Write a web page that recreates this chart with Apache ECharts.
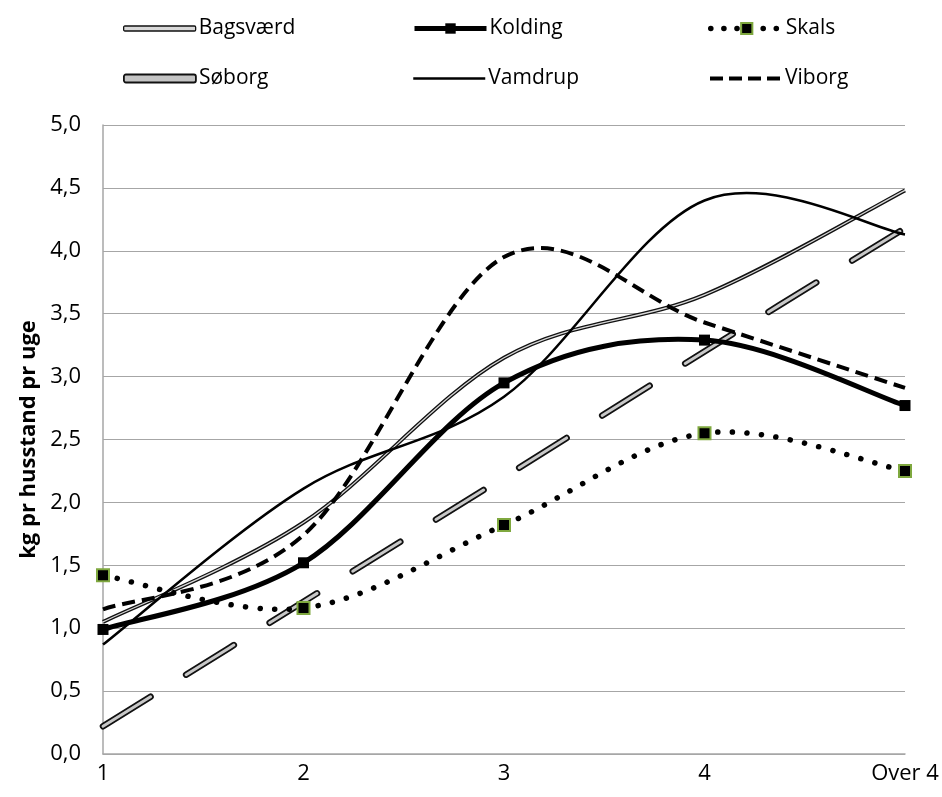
<!DOCTYPE html>
<html><head><meta charset="utf-8">
<script src="https://cdn.jsdelivr.net/npm/echarts@6/dist/echarts.min.js"></script>
<style>html,body{margin:0;padding:0;background:#fff}#c{width:942px;height:797px}</style>
</head><body><div id="c"></div>
<script>
const categories = ['1','2','3','4','Over 4'];
const bagsvaerd = [1.05, 1.84, 3.15, 3.65, 4.48];
const kolding = [0.99, 1.52, 2.95, 3.29, 2.77];
const skals = [1.42, 1.16, 1.82, 2.55, 2.25];
const soborg = [0.22, 1.21, 2.20, 3.20, 4.18];
const vamdrup = [0.87, 2.11, 2.84, 4.40, 4.13];
const viborg = [1.15, 1.74, 3.95, 3.43, 2.91];
const yTicks = [0, 0.5, 1, 1.5, 2, 2.5, 3, 3.5, 4, 4.5, 5];

const FONT = 'Open Sans';
const chart = echarts.init(document.getElementById('c'));

// Excel-like Catmull-Rom smoothing, drawn through api.coord
function curve(name, values, layers, z) {
  return {
    name: name + '_curve', type: 'custom', z: z, silent: true,
    data: values.map((v, i) => [i, v]), encode: {x: 0, y: 1},
    renderItem: function (params, api) {
      if (params.dataIndex !== 0) return null;
      const p = values.map((v, i) => api.coord([i, v]));
      const n = p.length;
      let d = 'M' + p[0][0] + ' ' + p[0][1];
      for (let i = 0; i < n - 1; i++) {
        const p0 = p[Math.max(i - 1, 0)], p1 = p[i], p2 = p[i + 1], p3 = p[Math.min(i + 2, n - 1)];
        const c1x = p1[0] + (p2[0] - p0[0]) / 6, c1y = p1[1] + (p2[1] - p0[1]) / 6;
        const c2x = p2[0] - (p3[0] - p1[0]) / 6, c2y = p2[1] - (p3[1] - p1[1]) / 6;
        d += ' C' + c1x + ' ' + c1y + ' ' + c2x + ' ' + c2y + ' ' + p2[0] + ' ' + p2[1];
      }
      return {type: 'group', children: layers.map(l => ({
        type: 'path', shape: {pathData: d},
        style: {fill: null, stroke: l.stroke, lineWidth: l.width, lineDash: l.dash || null, lineCap: l.cap || 'butt', lineJoin: 'round'}
      }))};
    }
  };
}
function marks(name, values, symbol, itemStyle) {
  return {name: name, type: 'line', data: values, symbol: symbol, symbolSize: symbol === 'none' ? 0 : (name === 'Skals' ? 12 : 11),
    z: 10, itemStyle: itemStyle || {color: '#000'}, lineStyle: {opacity: 0, color: '#000'}};
}
function leg(item, left, top, h, icon) {
  const o = {data: [item], left: left, top: top, itemWidth: 72, itemHeight: h, itemGap: 0, selectedMode: false,
    textStyle: {fontFamily: FONT, fontSize: 21, color: '#000', padding: [0, 0, 0, -2]}};
  if (icon) o.icon = icon;
  return o;
}
chart.setOption({
  animation: false,
  legend: [
    leg({name: 'Bagsværd', itemStyle: {color: '#d8d8d8', borderColor: '#111', borderWidth: 1.3, opacity: 1}}, 118, 13, 5, 'roundRect'),
    leg({name: 'Kolding', lineStyle: {opacity: 1, width: 5, color: '#000'}}, 407, 13, 13),
    leg({name: 'Skals', lineStyle: {opacity: 1, width: 5.5, color: '#000', type: [0.1, 13], cap: 'round'}}, 703, 13, 14),
    leg({name: 'Søborg', itemStyle: {color: '#c4c4c4', borderColor: '#111', borderWidth: 1.8, opacity: 1}}, 118, 63, 8, 'roundRect'),
    leg({name: 'Vamdrup', lineStyle: {opacity: 1, width: 2.5, color: '#000'}, itemStyle: {opacity: 0}}, 407, 63, 13),
    leg({name: 'Viborg', lineStyle: {opacity: 1, width: 4, color: '#000', type: [13, 6]}, itemStyle: {opacity: 0}}, 703, 63, 13)
  ],
  grid: {left: 103, right: 37, top: 125, bottom: 43, containLabel: false},
  xAxis: {type: 'category', data: categories, boundaryGap: false,
    axisLine: {lineStyle: {color: '#a6a6a6', width: 1.5}}, axisTick: {show: false},
    axisLabel: {fontFamily: FONT, fontSize: 22, color: '#000', margin: 9},
    splitLine: {show: false}},
  yAxis: {type: 'value', min: yTicks[0], max: yTicks[yTicks.length - 1], interval: 0.5,
    name: 'kg pr husstand pr uge', nameLocation: 'middle', nameGap: 45,
    nameTextStyle: {fontFamily: FONT, fontSize: 22, fontWeight: 'bold', color: '#000'},
    axisLine: {show: true, lineStyle: {color: '#a6a6a6', width: 1.5}}, axisTick: {show: false},
    axisLabel: {fontFamily: FONT, fontSize: 22, color: '#000', margin: 22,
      formatter: v => v.toFixed(1).replace('.', ',')},
    splitLine: {lineStyle: {color: '#a6a6a6', width: 1.2}}},
  series: [
    curve('Søborg', soborg, [
      {stroke: '#111', width: 6.5, dash: [56, 42], cap: 'round'},
      {stroke: '#c8c8c8', width: 3, dash: [56, 42], cap: 'round'}], 2),
    curve('Bagsværd', bagsvaerd, [
      {stroke: '#111', width: 4},
      {stroke: '#d8d8d8', width: 1.3}], 3),
    curve('Skals', skals, [{stroke: '#000', width: 5.5, dash: [0.1, 14.5], cap: 'round'}], 4),
    curve('Kolding', kolding, [{stroke: '#000', width: 5}], 5),
    curve('Vamdrup', vamdrup, [{stroke: '#000', width: 2.5}], 6),
    curve('Viborg', viborg, [{stroke: '#000', width: 4, dash: [13, 7]}], 7),
    marks('Bagsværd', bagsvaerd, 'none'),
    marks('Kolding', kolding, 'rect'),
    marks('Skals', skals, 'rect', {color: '#000', borderColor: '#7fa83f', borderWidth: 2}),
    marks('Søborg', soborg, 'none'),
    marks('Vamdrup', vamdrup, 'none'),
    marks('Viborg', viborg, 'none')
  ]
});
</script></body></html>
